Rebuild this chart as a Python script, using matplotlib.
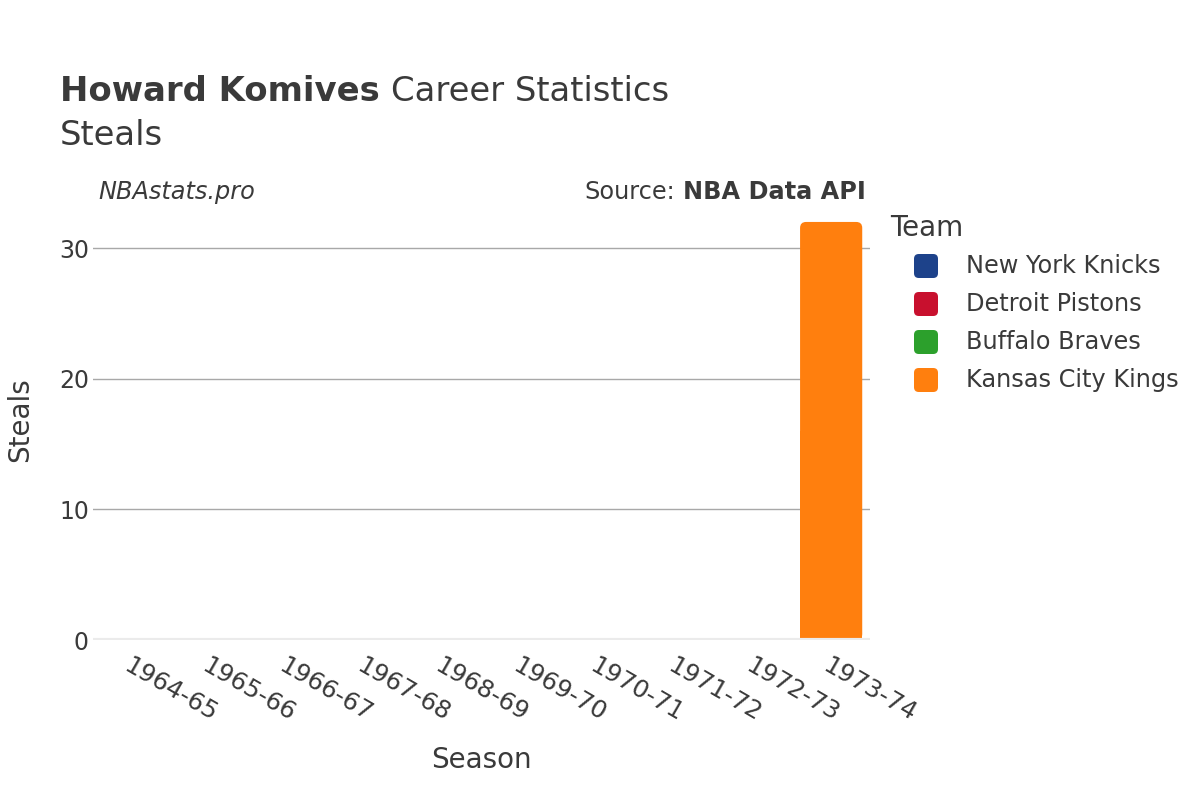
import matplotlib
matplotlib.use("Agg")
import matplotlib.pyplot as plt
from matplotlib.patches import FancyBboxPatch
import numpy as np

seasons = ["1964-65", "1965-66", "1966-67", "1967-68", "1968-69",
           "1969-70", "1970-71", "1971-72", "1972-73", "1973-74"]
teams = ["New York Knicks", "Detroit Pistons", "Buffalo Braves", "Kansas City Kings"]
team_colors = ["#1d428a", "#c8102e", "#2ca02c", "#ff7f0e"]
# steals per season per team (steals were not recorded before 1973-74)
steals = {
    "New York Knicks":   [0, 0, 0, 0, 0, 0, 0, 0, 0, 0],
    "Detroit Pistons":   [0, 0, 0, 0, 0, 0, 0, 0, 0, 0],
    "Buffalo Braves":    [0, 0, 0, 0, 0, 0, 0, 0, 0, 0],
    "Kansas City Kings": [0, 0, 0, 0, 0, 0, 0, 0, 0, 32],
}
yticks = [0, 10, 20, 30]

W, H = 1200, 800
TXT = "#3a3a3a"
fig = plt.figure(figsize=(12, 8), dpi=100)
fig.patch.set_facecolor("white")
ax = fig.add_axes([93 / W, 1 - 640 / H, (870 - 93) / W, (640 - 200) / H])
ax.set_facecolor("white")

x = np.arange(len(seasons))
ymax = 33.68
ax.set_xlim(-0.5, len(seasons) - 0.5)
ax.set_ylim(0, ymax)

px_per_x = (870 - 93) / len(seasons)
px_per_y = (640 - 200) / ymax
aspect = px_per_x / px_per_y

for team, col in zip(teams, team_colors):
    vals = steals[team]
    bars = ax.bar(x, vals, width=0.8, color=col, zorder=3)
    for b in bars:
        h = b.get_height()
        b.set_visible(False)
        if h <= 0:
            continue
        r = 6 / px_per_x
        p = FancyBboxPatch((b.get_x(), b.get_y()), b.get_width(), h,
                           boxstyle=f"round,pad=0,rounding_size={r}",
                           mutation_aspect=aspect, facecolor=col,
                           edgecolor="none", zorder=3)
        ax.add_patch(p)
        ax.add_patch(plt.Rectangle((b.get_x(), 0), b.get_width(), h / 2,
                                   facecolor=col, edgecolor="none", zorder=3))

for yt in yticks[1:]:
    ax.axhline(yt, color="#a8a8a8", lw=1.0, zorder=1)
ax.axhline(0, color="#ebebeb", lw=3, zorder=4)

for s in ax.spines.values():
    s.set_visible(False)
ax.set_yticks(yticks)
ax.set_yticklabels([str(t) for t in yticks], fontsize=17, color=TXT)
ax.tick_params(axis="y", length=0, pad=3)
ax.set_xticks(x)
ax.set_xticklabels(seasons, rotation=-30, ha="left", va="top",
                   rotation_mode="anchor", fontsize=17.8, color=TXT)
ax.tick_params(axis="x", length=0, pad=10)

ax.set_xlabel("Season", fontsize=20, color=TXT, labelpad=14)
ax.set_ylabel("Steals", fontsize=20, color=TXT, labelpad=18)

def fx(px):
    return px / W

def fy(py):
    return 1 - py / H

fig.text(fx(60), fy(101), "Howard Komives", fontsize=24.4, fontweight="bold",
         color=TXT, va="baseline", ha="left")
fig.canvas.draw()
rend = fig.canvas.get_renderer()
bb = fig.texts[0].get_window_extent(renderer=rend)
fig.text((bb.x1 + 11) / W, fy(101), "Career Statistics", fontsize=24.4,
         color=TXT, va="baseline", ha="left")
fig.text(fx(60), fy(145), "Steals", fontsize=24.4, color=TXT,
         va="baseline", ha="left")

fig.text(fx(98), fy(199), "NBAstats.pro", fontsize=17.3, style="italic",
         color=TXT, va="baseline", ha="left")
src = fig.text(fx(866), fy(199), "NBA Data API", fontsize=17.3, fontweight="bold",
               color=TXT, va="baseline", ha="right")
fig.canvas.draw()
sb = src.get_window_extent(renderer=fig.canvas.get_renderer())
fig.text((sb.x0 - 8) / W, fy(199), "Source:", fontsize=17.3,
         color=TXT, va="baseline", ha="right")

# legend
fig.text(fx(890), fy(236), "Team", fontsize=20, color=TXT,
         va="baseline", ha="left")
for i, (team, col) in enumerate(zip(teams, team_colors)):
    cy = 266 + i * 38
    sq = FancyBboxPatch((fx(914), fy(cy + 12)), 24 / W, 24 / H,
                        boxstyle="round,pad=0,rounding_size=0.004",
                        mutation_aspect=W / H,
                        transform=fig.transFigure, facecolor=col,
                        edgecolor="none")
    fig.patches.append(sq)
    fig.text(fx(966), fy(cy), team, fontsize=17.3, color=TXT,
             va="center", ha="left")

fig.savefig("out.png", dpi=100, facecolor="white")
